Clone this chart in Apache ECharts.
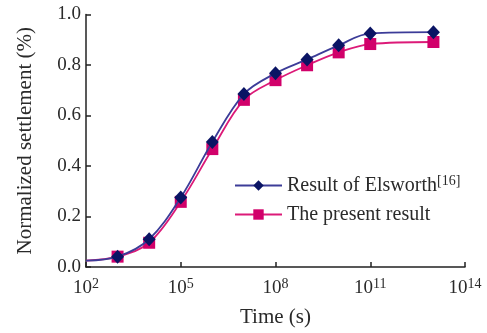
<!DOCTYPE html>
<html>
<head>
<meta charset="utf-8">
<script src="https://cdn.jsdelivr.net/npm/echarts@6/dist/echarts.min.js"></script>
<style>html,body{margin:0;padding:0;background:#fff;}#c{width:487px;height:333px;}</style>
</head>
<body>
<div id="c"></div>
<script>
// time exponents (time = 10^exp s); first entry is the curve start (no marker)
var timeExp = [2, 3, 4, 5, 6, 7, 8, 9, 10, 11, 13];
var elsworth = [0.025, 0.041, 0.11, 0.275, 0.495, 0.685, 0.767, 0.822, 0.878, 0.925, 0.930];
var present  = [0.025, 0.041, 0.096, 0.258, 0.467, 0.662, 0.740, 0.799, 0.850, 0.883, 0.891];
var xTickExp = [2, 5, 8, 11, 14];
var yTicks = [0.0, 0.2, 0.4, 0.6, 0.8, 1.0];
var seriesNames = ['Result of Elsworth[16]', 'The present result'];

var FONT = 'Liberation Serif';
function build(vals) {
  return timeExp.map(function (e, i) {
    var d = { value: [e, vals[i]] };
    if (i === 0) d.symbol = 'none';
    return d;
  });
}
var chart = echarts.init(document.getElementById('c'), null, { renderer: 'canvas' });
chart.setOption({
  animation: false,
  backgroundColor: '#fff',
  grid: { left: 86, right: 22, top: 14.5, bottom: 63.5, containLabel: false },
  legend: {
    left: 229, top: 169, orient: 'vertical', itemGap: 9,
    itemWidth: 47, itemHeight: 13,
    data: seriesNames,
    formatter: function (n) {
      if (n === seriesNames[0]) return 'Result of Elsworth{sup|[16]}';
      return n;
    },
    textStyle: {
      fontFamily: FONT, fontSize: 20, color: '#2a2a2a', padding: [0, 0, 0, 0],
      rich: { sup: { fontFamily: FONT, fontSize: 14, color: '#2a2a2a', verticalAlign: 'bottom', padding: [0, 0, 9, 0] } }
    }
  },
  xAxis: {
    type: 'value', min: 2, max: 14, interval: 3,
    name: 'Time (s)', nameLocation: 'middle', nameGap: 40,
    nameTextStyle: { fontFamily: FONT, fontSize: 21, color: '#2a2a2a' },
    axisLine: { lineStyle: { color: '#222', width: 1.5 } },
    axisTick: { inside: true, length: 5, lineStyle: { color: '#222', width: 1.5 } },
    splitLine: { show: false },
    axisLabel: {
      margin: 10, color: '#2a2a2a', fontFamily: FONT, fontSize: 19,
      formatter: function (v) { return xTickExp.indexOf(v) >= 0 ? '10{sup|' + v + '}' : ''; },
      rich: { sup: { fontFamily: FONT, fontSize: 14, color: '#2a2a2a', verticalAlign: 'bottom', padding: [0, 0, 8, 0] } }
    }
  },
  yAxis: {
    type: 'value', min: 0, max: 1, interval: 0.2,
    name: 'Normalized settlement (%)', nameLocation: 'middle', nameGap: 50,
    nameTextStyle: { fontFamily: FONT, fontSize: 21, color: '#2a2a2a' },
    axisLine: { show: true, lineStyle: { color: '#222', width: 1.5 } },
    axisTick: { show: true, inside: true, length: 5, lineStyle: { color: '#222', width: 1.5 } },
    splitLine: { show: false },
    axisLabel: {
      margin: 5, color: '#2a2a2a', fontFamily: FONT, fontSize: 19,
      formatter: function (v) { return v.toFixed(1); }
    }
  },
  series: [
    {
      name: seriesNames[0], type: 'line', smooth: 0.35, data: build(elsworth),
      symbol: 'diamond', symbolSize: [13, 14],
      lineStyle: { color: '#3c3c98', width: 1.8 },
      itemStyle: { color: '#0a1464' }, z: 3
    },
    {
      name: seriesNames[1], type: 'line', smooth: 0.35, data: build(present),
      symbol: 'rect', symbolSize: 12,
      lineStyle: { color: '#dc1a78', width: 1.8 },
      itemStyle: { color: '#d1006a' }, z: 2
    }
  ]
});
</script>
</body>
</html>
